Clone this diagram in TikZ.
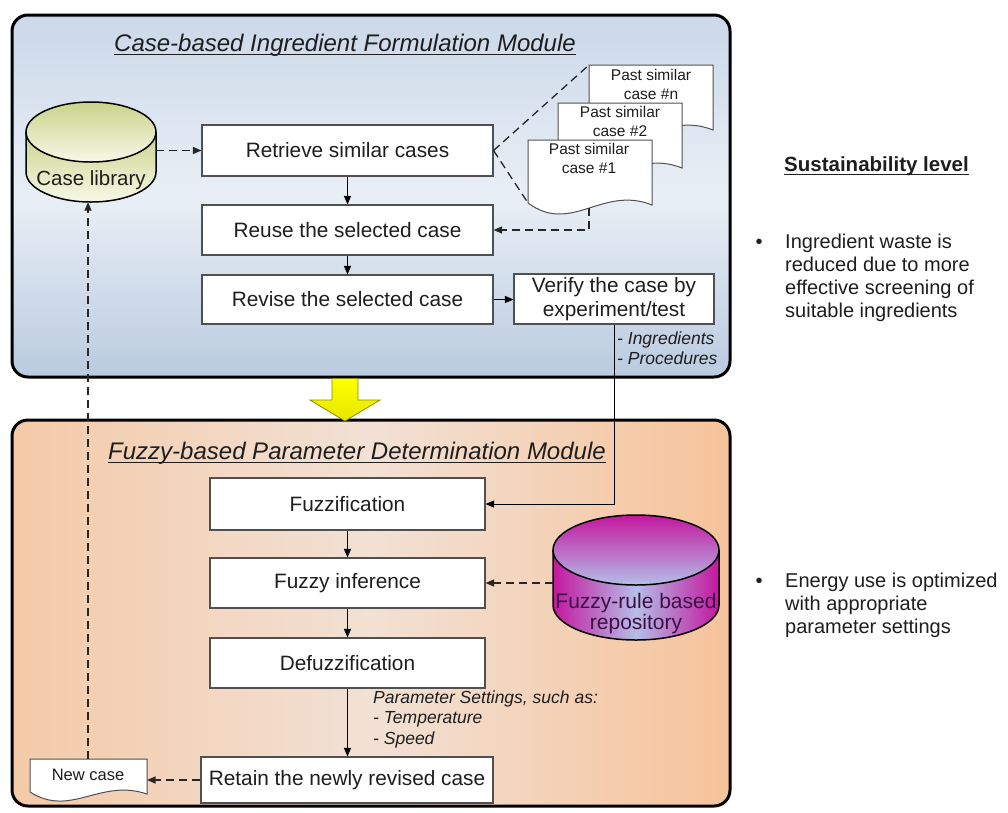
\documentclass[tikz,border=0pt]{standalone}
\usepackage{fontspec}
\setmainfont{Liberation Sans}
\usetikzlibrary{arrows.meta,calc}
\newcommand{\myfs}[2]{\fontsize{#1pt}{#2pt}\selectfont}
\definecolor{txt}{HTML}{1E1E1E}
\definecolor{boxgray}{HTML}{505050}
\definecolor{blueA}{HTML}{CBD8E9}
\definecolor{blueB}{HTML}{E9EFF6}
\definecolor{blueC}{HTML}{BACBE0}
\definecolor{peachA}{HTML}{F4CAA8}
\definecolor{peachB}{HTML}{F2E1D5}
\definecolor{peachC}{HTML}{F6C39A}
\definecolor{oliveA}{HTML}{C9D48A}
\definecolor{oliveB}{HTML}{F7F8E8}
\definecolor{magA}{HTML}{C4179E}
\definecolor{lavB}{HTML}{B4BEE8}
\definecolor{fuzzytxt}{HTML}{3A0F45}
\definecolor{yelA}{HTML}{FFFF00}
\definecolor{yelB}{HTML}{E6E600}
\definecolor{yelEdge}{HTML}{8C8C00}
\newcommand{\mydoc}[6]{%
  \draw[docfill] (#1,#3) -- (#2,#3) -- (#2,{#4+2}) .. controls ({#1+0.6*(#2-#1)},{#4-#5}) and ({#1+0.35*(#2-#1)},{#4+#6}) .. (#1,#4) -- cycle;}
\begin{document}
\begin{tikzpicture}[x=1pt,y=-1pt,
  procbox/.style={draw=boxgray, line width=1.1pt, fill=white, inner sep=0pt, text=txt, font=\myfs{20.8}{24}, align=center},
  arr/.style={-{Triangle[length=8.5pt,width=7pt]}, line width=1pt, draw=black},
  dashpat/.style={dash pattern=on 8pt off 5pt, line width=1.3pt, draw=black!85},
  darr/.style={dashpat, -{Triangle[length=8.5pt,width=7pt]}},
  docfill/.style={draw=boxgray, line width=1pt, fill=white},
  doctext/.style={text=txt, font=\myfs{15.5}{19}, align=center, inner sep=0pt},
  plain/.style={text=txt, inner sep=0pt},
  cylline/.style={draw=black, line width=1.5pt},
]
\useasboundingbox (0,0) rectangle (1008,812);
\fill[white] (0,0) rectangle (1008,812);

% panels
\draw[line width=3pt, rounded corners=16pt, top color=blueA, bottom color=blueC, middle color=blueB] (12,15) rectangle (730,377);
\draw[line width=3pt, rounded corners=16pt, left color=peachA, right color=peachC, middle color=peachB] (12,420) rectangle (730,806);

% yellow arrow
\draw[draw=yelEdge, line width=0.8pt, top color=yelA, bottom color=yelB] (332,378.5) -- (358,378.5) -- (358,400) -- (380,400) -- (345,421) -- (310,400) -- (332,400) -- cycle;

% titles
\node[plain, font=\itshape\myfs{24}{28}, anchor=base] (title1) at (345,51) {Case-based Ingredient Formulation Module};
\draw[line width=1.2pt, txt] ($(title1.base west)+(0,3.5)$) -- ($(title1.base east)+(0,3.5)$);
\node[plain, font=\itshape\myfs{24}{28}, anchor=base] (title2) at (357,459) {Fuzzy-based Parameter Determination Module};
\draw[line width=1.2pt, txt] ($(title2.base west)+(0,3.5)$) -- ($(title2.base east)+(0,3.5)$);

% case library cylinder
\draw[cylline, top color=oliveA, bottom color=oliveB] (26,132) -- (26,172) .. controls (26,188.6) and (55.1,202) .. (91,202) .. controls (126.9,202) and (156,188.6) .. (156,172) -- (156,132);
\draw[cylline, top color=oliveA, bottom color=oliveB] (91,132) ellipse [x radius=65, y radius=30];
\node[minimum width=130pt, minimum height=100pt, inner sep=0pt] (caselib) at (91,152) {};
\node[plain, font=\myfs{20.5}{24}, anchor=base] (caselibtxt) at (91,185.5) {Case library};

% fuzzy-rule repository cylinder
\draw[cylline, left color=magA, right color=magA, middle color=lavB] (553,550) -- (553,605) .. controls (553,624.3) and (590.2,640) .. (636,640) .. controls (681.8,640) and (719,624.3) .. (719,605) -- (719,550);
\draw[cylline, top color=magA, bottom color=lavB] (636,550) ellipse [x radius=83, y radius=35];
\node[minimum width=166pt, minimum height=127pt, inner sep=0pt] (fzrepo) at (636,578.5) {};
\node[plain, font=\myfs{21}{21}, text=fuzzytxt, align=center] (fzrepotxt) at (636,614) {Fuzzy-rule based\\repository};

% process boxes
\node[procbox, minimum width=291pt, minimum height=51pt] (retrieve) at (347.5,150.5) {Retrieve similar cases};
\node[procbox, minimum width=291pt, minimum height=50pt] (reuse) at (347.5,230) {Reuse the selected case};
\node[procbox, minimum width=291pt, minimum height=49pt] (revise) at (347.5,299.5) {Revise the selected case};
\node[procbox, minimum width=200pt, minimum height=50pt] (verify) at (614,299) {Verify the case by\\experiment/test};
\node[procbox, minimum width=275pt, minimum height=52pt] (fuzz) at (347.5,504) {Fuzzification};
\node[procbox, minimum width=275pt, minimum height=50pt] (infer) at (347.5,583) {Fuzzy inference};
\node[procbox, minimum width=275pt, minimum height=50pt] (defuzz) at (347.5,663) {Defuzzification};
\node[procbox, minimum width=292pt, minimum height=46pt] (retain) at (347,780) {Retain the newly revised case};

% past similar case documents
\coordinate (dnTL) at (589,65);
\coordinate (d1BL) at (528,203);
\coordinate (d1B) at (589,208);
\draw[dashpat] (retrieve.east) -- (dnTL);
\draw[dashpat] (retrieve.east) -- (d1BL);
\mydoc{589}{713}{65}{128}{18}{32}
\node[doctext] (dn) at (651,84) {Past similar\\case \#n};
\mydoc{558}{682}{103}{166}{18}{32}
\node[doctext] (d2) at (620,121.5) {Past similar\\case \#2};
\mydoc{528}{652}{140}{203}{18}{32}
\node[doctext] (d1) at (589,158.5) {Past similar\\case \#1};

% new case document
\mydoc{30}{147}{759}{792}{14}{26}
\node[plain, font=\myfs{16.5}{20}] (newcase) at (88,775) {New case};
\coordinate (ncN) at (88,759);
\coordinate (ncE) at (147,780);

% connectors
\draw[darr] (caselib.east |- retrieve.west) -- (retrieve.west);
\draw[arr] (retrieve) -- (reuse);
\draw[arr] (reuse) -- (revise);
\draw[arr] (revise.east) -- (revise.east -| verify.west);
\draw[darr] (d1B) |- (reuse.east);
\draw[arr] (verify.south) |- (fuzz.east);
\draw[arr] (fuzz) -- (infer);
\draw[arr] (infer) -- (defuzz);
\draw[arr] (defuzz.south) -- (defuzz.south |- retain.north);
\draw[darr] (fzrepo.west |- infer.east) -- (infer.east);
\draw[darr] (retain.west) -- (retain.west -| ncE);
\draw[darr] (ncN) -- (ncN |- caselib.south);

% annotations
\node[plain, font=\itshape\myfs{17.5}{20}, align=left, anchor=north west] (ingr) at (617,331.5) {- Ingredients\\- Procedures};
\node[plain, font=\itshape\myfs{17.5}{20.5}, align=left, anchor=north west] (params) at (373,690.5) {Parameter Settings, such as:\\- Temperature\\- Speed};

% sustainability column
\node[plain, font=\bfseries\myfs{20.5}{24}, anchor=base west] (sust) at (784,171) {Sustainability level};
\draw[line width=1.3pt, txt] ($(sust.base west)+(0,3.5)$) -- ($(sust.base east)+(0,3.5)$);
\node[plain, font=\myfs{20}{23}, anchor=base] (b1) at (759,248) {•};
\node[plain, font=\myfs{20}{23}, align=left, anchor=north west] (s1) at (785,233.5) {Ingredient waste is\\reduced due to more\\effective screening of\\suitable ingredients};
\node[plain, font=\myfs{20}{23}, anchor=base] (b2) at (759,587) {•};
\node[plain, font=\myfs{20}{23}, align=left, anchor=north west] (s2) at (785,572.5) {Energy use is optimized\\with appropriate\\parameter settings};
\end{tikzpicture}
\end{document}
